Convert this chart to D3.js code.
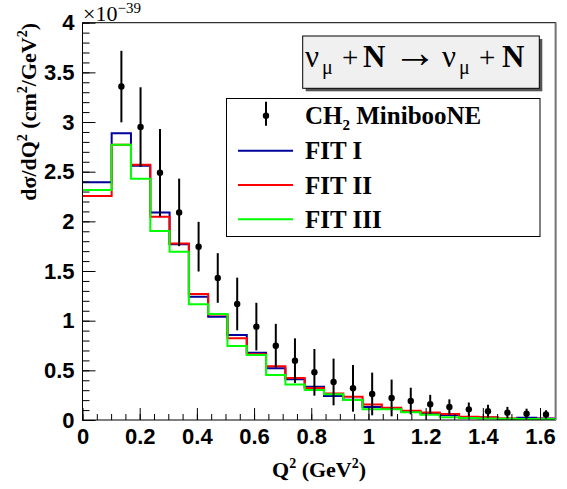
<!DOCTYPE html>
<html>
<head>
<meta charset="utf-8">
<script src="https://cdn.jsdelivr.net/npm/d3@7"></script>
<style>
  body { margin: 0; background: #fff; }
  svg { display: block; font-family: "Liberation Serif", "Times New Roman", serif; }
</style>
</head>
<body>
<div id="chart"></div>
<script>
// bin edges in Q2 (GeV^2): one wide first bin, then the MiniBooNE bins
const binEdges = [0, 0.102, 0.1695, 0.237, 0.3045, 0.372, 0.4395, 0.507, 0.5745, 0.642, 0.7095,
  0.777, 0.8445, 0.912, 0.9795, 1.047, 1.1145, 1.182, 1.2495, 1.317, 1.3845, 1.452, 1.5195, 1.587, 1.6545];

// fitted cross sections per bin (x 1e-39 cm^2/GeV^2)
const fit1 = [2.394, 2.887, 2.56, 2.09, 1.77, 1.242, 1.04, 0.856, 0.678, 0.52, 0.41, 0.335,
  0.242, 0.205, 0.13, 0.114, 0.085, 0.065, 0.05, 0.027, 0.024, 0.012, 0.023, 0.015];
const fit2 = [2.256, 2.77, 2.57, 2.047, 1.776, 1.269, 1.062, 0.823, 0.661, 0.542, 0.423, 0.322,
  0.268, 0.235, 0.155, 0.124, 0.094, 0.075, 0.06, 0.033, 0.027, 0.014, 0.01, 0.013];
const fit3 = [2.316, 2.77, 2.43, 1.903, 1.693, 1.165, 1.067, 0.745, 0.655, 0.453, 0.357, 0.302,
  0.259, 0.201, 0.107, 0.107, 0.079, 0.054, 0.027, 0.021, 0.015, 0.012, 0.01, 0.01];

// CH2 MiniBooNE data points
const dataQ2 = [0.136, 0.203, 0.271, 0.338, 0.406, 0.473, 0.541, 0.608, 0.676, 0.743, 0.811, 0.878,
  0.946, 1.013, 1.081, 1.148, 1.216, 1.283, 1.351, 1.418, 1.486, 1.553, 1.621];
const dataXsec = [3.357, 2.95, 2.49, 2.09, 1.745, 1.43, 1.168, 0.94, 0.748, 0.597, 0.48, 0.383,
  0.319, 0.262, 0.222, 0.191, 0.158, 0.131, 0.107, 0.088, 0.074, 0.064, 0.056];
const dataErr = [0.36, 0.40, 0.44, 0.34, 0.25, 0.25, 0.265, 0.24, 0.22, 0.225, 0.235, 0.235,
  0.235, 0.215, 0.185, 0.134, 0.095, 0.077, 0.069, 0.065, 0.058, 0.05, 0.042];

const seriesNames = ["FIT I", "FIT II", "FIT III"];
const seriesColors = ["#00009a", "#ff0000", "#00ff00"];
const yMajorTicks = [0, 0.5, 1, 1.5, 2, 2.5, 3, 3.5, 4];
const xMajorTicks = [0, 0.2, 0.4, 0.6, 0.8, 1, 1.2, 1.4, 1.6];

// MARGIN CONVENTIONS
const outerWidth = 567;
const outerHeight = 489;
const margin = { top: 22.7, right: 11.4, bottom: 69, left: 82.5 };
const width = outerWidth - margin.left - margin.right;
const height = outerHeight - margin.top - margin.bottom;

const svg = d3.select("#chart").append("svg")
  .attr("width", outerWidth)
  .attr("height", outerHeight);

const g = svg.append("g")
  .attr("transform", `translate(${margin.left}, ${margin.top})`);

// scales
const x = d3.scaleLinear().domain([0, binEdges[binEdges.length - 1]]).range([0, width]);
const y = d3.scaleLinear().domain([0, 4]).range([height, 0]);

// histograms as step lines
const step = d3.line()
  .x(d => x(d[0]))
  .y(d => y(d[1]))
  .curve(d3.curveStepAfter);

[fit1, fit2, fit3].forEach((vals, i) => {
  const pts = vals.map((v, j) => [binEdges[j], v]);
  pts.push([binEdges[binEdges.length - 1], vals[vals.length - 1]]);
  g.append("path")
    .attr("d", step(pts))
    .attr("fill", "none")
    .attr("stroke", seriesColors[i])
    .attr("stroke-width", 2);
});

// data points with error bars
const points = dataQ2.map((q, i) => ({ q: q, v: dataXsec[i], e: dataErr[i] }));

g.selectAll(".err")
  .data(points)
  .enter()
  .append("line")
  .attr("class", "err")
  .attr("x1", d => x(d.q))
  .attr("x2", d => x(d.q))
  .attr("y1", d => y(d.v + d.e))
  .attr("y2", d => y(Math.max(0, d.v - d.e)))
  .attr("stroke", "#000")
  .attr("stroke-width", 2);

g.selectAll(".pt")
  .data(points)
  .enter()
  .append("circle")
  .attr("class", "pt")
  .attr("cx", d => x(d.q))
  .attr("cy", d => y(d.v))
  .attr("r", 3.2)
  .attr("fill", "#000");

// frame
g.append("rect")
  .attr("width", width)
  .attr("height", height)
  .attr("fill", "none")
  .attr("stroke", "#000")
  .attr("stroke-width", 1);
g.append("line")
  .attr("x1", width).attr("x2", width)
  .attr("y1", 0).attr("y2", height)
  .attr("stroke", "#777")
  .attr("stroke-width", 2);

// axes (ticks point inward, ROOT style)
const minorY = d3.range(0, 4.001, 0.1);
const minorX = d3.range(0, 1.65, 0.05);

g.append("g")
  .call(d3.axisLeft(y).tickValues(minorY).tickSize(-7).tickFormat(""))
  .call(a => a.select(".domain").remove());

g.append("g")
  .call(d3.axisLeft(y).tickValues(yMajorTicks).tickSize(-13).tickPadding(8).tickFormat(d3.format("")))
  .call(a => a.select(".domain").remove())
  .selectAll("text")
  .style("font-size", "22px")
  .style("font-weight", "bold")
  .attr("fill", "#000");

g.append("g")
  .attr("transform", `translate(0, ${height})`)
  .call(d3.axisBottom(x).tickValues(minorX).tickSize(-6).tickFormat(""))
  .call(a => a.select(".domain").remove());

g.append("g")
  .attr("transform", `translate(0, ${height})`)
  .call(d3.axisBottom(x).tickValues(xMajorTicks).tickSize(-12).tickPadding(7).tickFormat(d3.format("")))
  .call(a => a.select(".domain").remove())
  .selectAll("text")
  .attr("dy", "0.71em")
  .attr("y", 8)
  .style("font-size", "22px")
  .style("font-weight", "bold")
  .attr("fill", "#000");

g.selectAll(".tick line").attr("stroke", "#000");

// exponent label
const expo = svg.append("text")
  .attr("x", 83)
  .attr("y", 21)
  .style("font-size", "22px");
expo.append("tspan").text("×10");
expo.append("tspan").attr("dy", -8).style("font-size", "15px").text("−39");

// axis titles
const xt = svg.append("text")
  .attr("x", margin.left + width / 2)
  .attr("y", 477)
  .attr("text-anchor", "middle")
  .style("font-size", "22px")
  .style("font-weight", "bold");
xt.append("tspan").text("Q");
xt.append("tspan").attr("dy", -9).style("font-size", "14px").text("2");
xt.append("tspan").attr("dy", 9).text(" (GeV");
xt.append("tspan").attr("dy", -9).style("font-size", "14px").text("2");
xt.append("tspan").attr("dy", 9).text(")");

const yt = svg.append("text")
  .attr("transform", "translate(36, 23) rotate(-90)")
  .attr("text-anchor", "end")
  .style("font-size", "22px")
  .style("font-weight", "bold");
yt.append("tspan").text("dσ/dQ");
yt.append("tspan").attr("dy", -9).style("font-size", "14px").text("2");
yt.append("tspan").attr("dy", 9).text(" (cm");
yt.append("tspan").attr("dy", -9).style("font-size", "14px").text("2");
yt.append("tspan").attr("dy", 9).text("/GeV");
yt.append("tspan").attr("dy", -9).style("font-size", "14px").text("2");
yt.append("tspan").attr("dy", 9).text(")");

// process box
svg.append("rect")
  .attr("x", 305.7).attr("y", 39)
  .attr("width", 236.6).attr("height", 52.3)
  .attr("fill", "#555");
svg.append("rect")
  .attr("x", 302.7).attr("y", 36)
  .attr("width", 236.6).attr("height", 52.3)
  .attr("fill", "#f0f0f0")
  .attr("stroke", "#000")
  .attr("stroke-width", 1);

const procParts = [
  { t: "ν", x: 305, dy: 0, size: 31 },
  { t: "μ", x: 322, dy: 7, size: 20 },
  { t: "+", x: 342, dy: -7, size: 29 },
  { t: "N", x: 363, dy: 0, size: 31, bold: true },
  { t: "→", x: 393, dy: 0, size: 44 },
  { t: "ν", x: 442, dy: 0, size: 31 },
  { t: "μ", x: 459, dy: 7, size: 20 },
  { t: "+", x: 479, dy: -7, size: 29 },
  { t: "N", x: 502, dy: 0, size: 31, bold: true }
];
const proc = svg.append("text").attr("y", 67);
procParts.forEach(p => {
  proc.append("tspan")
    .attr("x", p.x)
    .attr("dy", p.dy)
    .style("font-size", p.size + "px")
    .style("font-weight", p.bold ? "bold" : "normal")
    .text(p.t);
});

// legend
const legend = svg.append("g");
legend.append("rect")
  .attr("x", 226.5).attr("y", 98.5)
  .attr("width", 313.5).attr("height", 138)
  .attr("fill", "#fff")
  .attr("stroke", "#000")
  .attr("stroke-width", 1);

const rowY = [115.7, 150.7, 185, 219.3];

legend.append("line")
  .attr("x1", 266).attr("x2", 266)
  .attr("y1", rowY[0] - 14).attr("y2", rowY[0] + 10)
  .attr("stroke", "#000").attr("stroke-width", 2);
legend.append("circle")
  .attr("cx", 266).attr("cy", rowY[0]).attr("r", 3.2).attr("fill", "#000");

const lt = legend.append("text")
  .attr("x", 305).attr("y", rowY[0] + 8.5)
  .style("font-size", "25px").style("font-weight", "bold");
lt.append("tspan").text("CH");
lt.append("tspan").attr("dy", 6).style("font-size", "15px").text("2");
lt.append("tspan").attr("dy", -6).text(" MinibooNE");

seriesNames.forEach((name, i) => {
  const yy = rowY[i + 1];
  legend.append("line")
    .attr("x1", 238).attr("x2", 293)
    .attr("y1", yy).attr("y2", yy)
    .attr("stroke", seriesColors[i]).attr("stroke-width", 2);
  legend.append("text")
    .attr("x", 305).attr("y", yy + 8.5)
    .style("font-size", "25px").style("font-weight", "bold")
    .text(name);
});
</script>
</body>
</html>
